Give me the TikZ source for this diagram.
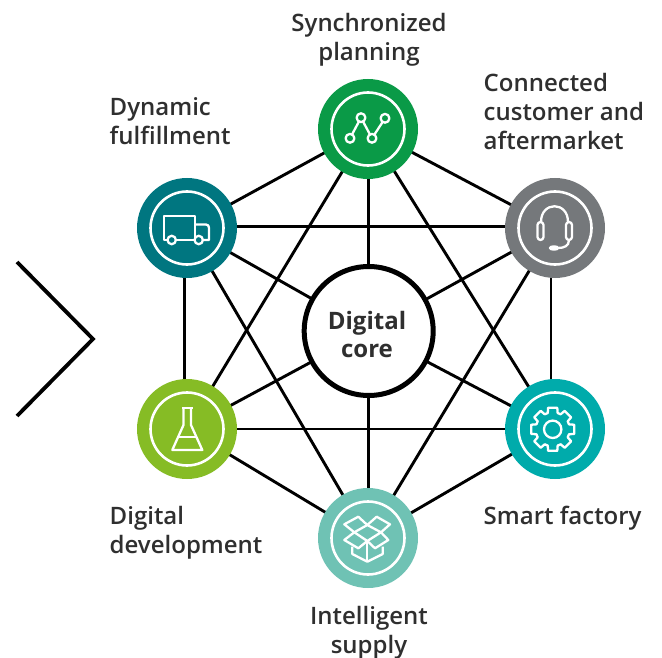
\documentclass[tikz,border=0pt]{standalone}
\usepackage{fontspec}
\usetikzlibrary{backgrounds}
\setmainfont{Open Sans Semibold}
\newfontfamily\corefont{Open Sans}
\definecolor{cTop}{HTML}{0A9A47}
\definecolor{cGray}{HTML}{75787B}
\definecolor{cTeal}{HTML}{007680}
\definecolor{cLime}{HTML}{86BC25}
\definecolor{cAqua}{HTML}{00ABAB}
\definecolor{cMint}{HTML}{6FC2B4}
\definecolor{cText}{HTML}{2F2F2F}
\tikzset{
  hub/.style={circle,minimum size=100pt,inner sep=0pt,fill=#1},
  ring/.style={circle,draw=white,line width=2.6pt,minimum size=73pt,inner sep=0pt},
  link/.style={black,line width=2.9pt},
  icon/.style={white,line width=2.3pt,line join=round},
  lab/.style={text=cText,inner sep=0pt,font=\fontsize{24}{29}\selectfont},
}
\begin{document}
\begin{tikzpicture}[x=1pt,y=-1pt]
\useasboundingbox (0,0) rectangle (662,658);
\node[hub=cTop] (top) at (368,129) {};
\node[hub=cGray] (ur) at (555,228) {};
\node[hub=cTeal] (ul) at (187,228) {};
\node[hub=cLime] (ll) at (187,429) {};
\node[hub=cAqua] (lr) at (555,429) {};
\node[hub=cMint] (bot) at (368,538) {};
\node[circle,draw=black,fill=white,line width=5pt,minimum size=129pt,inner sep=0pt] (core) at (368.7,331) {};
\node[align=center,inner sep=0pt,text=cText,font=\fontsize{24}{28}\corefont\bfseries\selectfont] (corelab) at (367,334) {Digital\\core};
\begin{scope}[on background layer]
\foreach \a/\b in {top/ur,lr/bot,bot/ll,ul/top,top/ll,top/lr,ul/bot,ur/bot,ul/core,ur/core,ll/core,lr/core}
  \draw[link] (\a.center) -- (\b.center);
\draw[link] ([xshift=-2.5pt]ul.center) -- ([xshift=-2.5pt]ll.center);
\draw[link] ([xshift=-4pt]ur.center) -- ([xshift=-4pt]lr.center);
\draw[link] ([yshift=1.4pt]ul.center) -- ([yshift=1.4pt]ur.center);
\draw[link] (ll.center) -- (lr.center);
\draw[link] ([xshift=0.7pt]top.center) -- ([xshift=0.7pt]bot.center);
\end{scope}
\node[ring] (r1) at (top) {};
\node[ring] (r2) at (ur) {};
\node[ring] (r3) at (ul) {};
\node[ring] (r4) at (ll) {};
\node[ring] (r5) at (lr) {};
\node[ring] (r6) at (bot) {};
% chevron
\coordinate (c1) at (17,262); \coordinate (c2) at (93,339); \coordinate (c3) at (17,416);
\draw[black,line width=3.8pt,miter limit=10] (c1) -- (c2) -- (c3);
% labels
\node[lab,align=center,anchor=north] (t1) at (369,13) {Synchronized\\planning};
\node[lab,align=left,anchor=north west] (t2) at (483.5,73) {Connected\\customer and\\aftermarket};
\node[lab,align=left,anchor=north west] (t3) at (109.5,97) {Dynamic\\fulfillment};
\node[lab,align=left,anchor=north west] (t4) at (109.5,506) {Digital\\development};
\node[lab,align=left,anchor=north west] (t5) at (483.5,506) {Smart factory};
\node[lab,align=center,anchor=north] (t6) at (369,606) {Intelligent\\supply};
% chart icon
\draw[icon] (350,138.3) -- (361,117.7) -- (372,138.3) -- (385,118.3);
\foreach \p in {(350,138.3),(361,117.7),(372,138.3),(385,118.3)}
  \draw[icon,fill=cTop] \p circle (4.4);
% headset icon
\draw[icon] (541,222) .. controls (541,201) and (568,201) .. (568,222);
\draw[icon,rounded corners=3pt] (537.5,222) rectangle (543.5,240);
\draw[icon,rounded corners=3pt] (566,222) rectangle (572,240);
\draw[icon] (569,240) .. controls (569,246) and (564,248) .. (558,248);
\draw[icon,fill=white] (554,248) ellipse (4 and 1.6);
% truck icon
\draw[icon] (195,240) -- (195,216) -- (164.3,216) -- (164.3,240) -- (167.5,240);
\draw[icon] (176,240) -- (194.5,240);
\draw[icon] (195,224.5) -- (206,224.5) .. controls (208,224.5) and (209,226) .. (209,228) -- (209,240) -- (203,240);
\draw[icon] (171.7,240) circle (4.2);
\draw[icon] (198.7,240) circle (4.2);
% flask icon
\draw[icon] (182,408.3) -- (192.8,408.3);
\draw[icon] (183.5,408.3) -- (183.5,425) -- (172.3,450) -- (202.3,450) -- (191,425) -- (191,408.3);
\draw[icon] (178,437.3) -- (196.7,437.3);
% gear icon
\draw[icon] (552.7,429.3) circle (8.7);
\draw[icon] ({552.7+17*cos(-17)},{429.3+17*sin(-17)}) \foreach \k in {0,...,7} {
  -- ({552.7+17*cos(\k*45-17)},{429.3+17*sin(\k*45-17)})
  -- ({552.7+22*cos(\k*45-12)},{429.3+22*sin(\k*45-12)})
  -- ({552.7+22*cos(\k*45+12)},{429.3+22*sin(\k*45+12)})
  -- ({552.7+17*cos(\k*45+17)},{429.3+17*sin(\k*45+17)})
} -- cycle;
% box icon
\draw[icon] (352.3,546.7) -- (352.3,554) -- (367.3,561.7) -- (382.7,554) -- (382.7,546.7);
\draw[icon] (367.3,541) -- (367.3,561.7);
\draw[icon] (367.3,525) -- (354.3,532.3) -- (367.3,541) -- (381,532.3) -- cycle;
\draw[icon] (354.3,532.3) -- (344.3,524.3) -- (358.3,516.7) -- (367.3,525) -- (376.7,516.7) -- (390,524.3) -- (381,532.3);
\draw[icon] (354.3,532.3) -- (344.3,540) -- (358.3,548.3) -- (367.3,541) -- (375,548.3) -- (388.3,540) -- (381,532.3);
\end{tikzpicture}
\end{document}
